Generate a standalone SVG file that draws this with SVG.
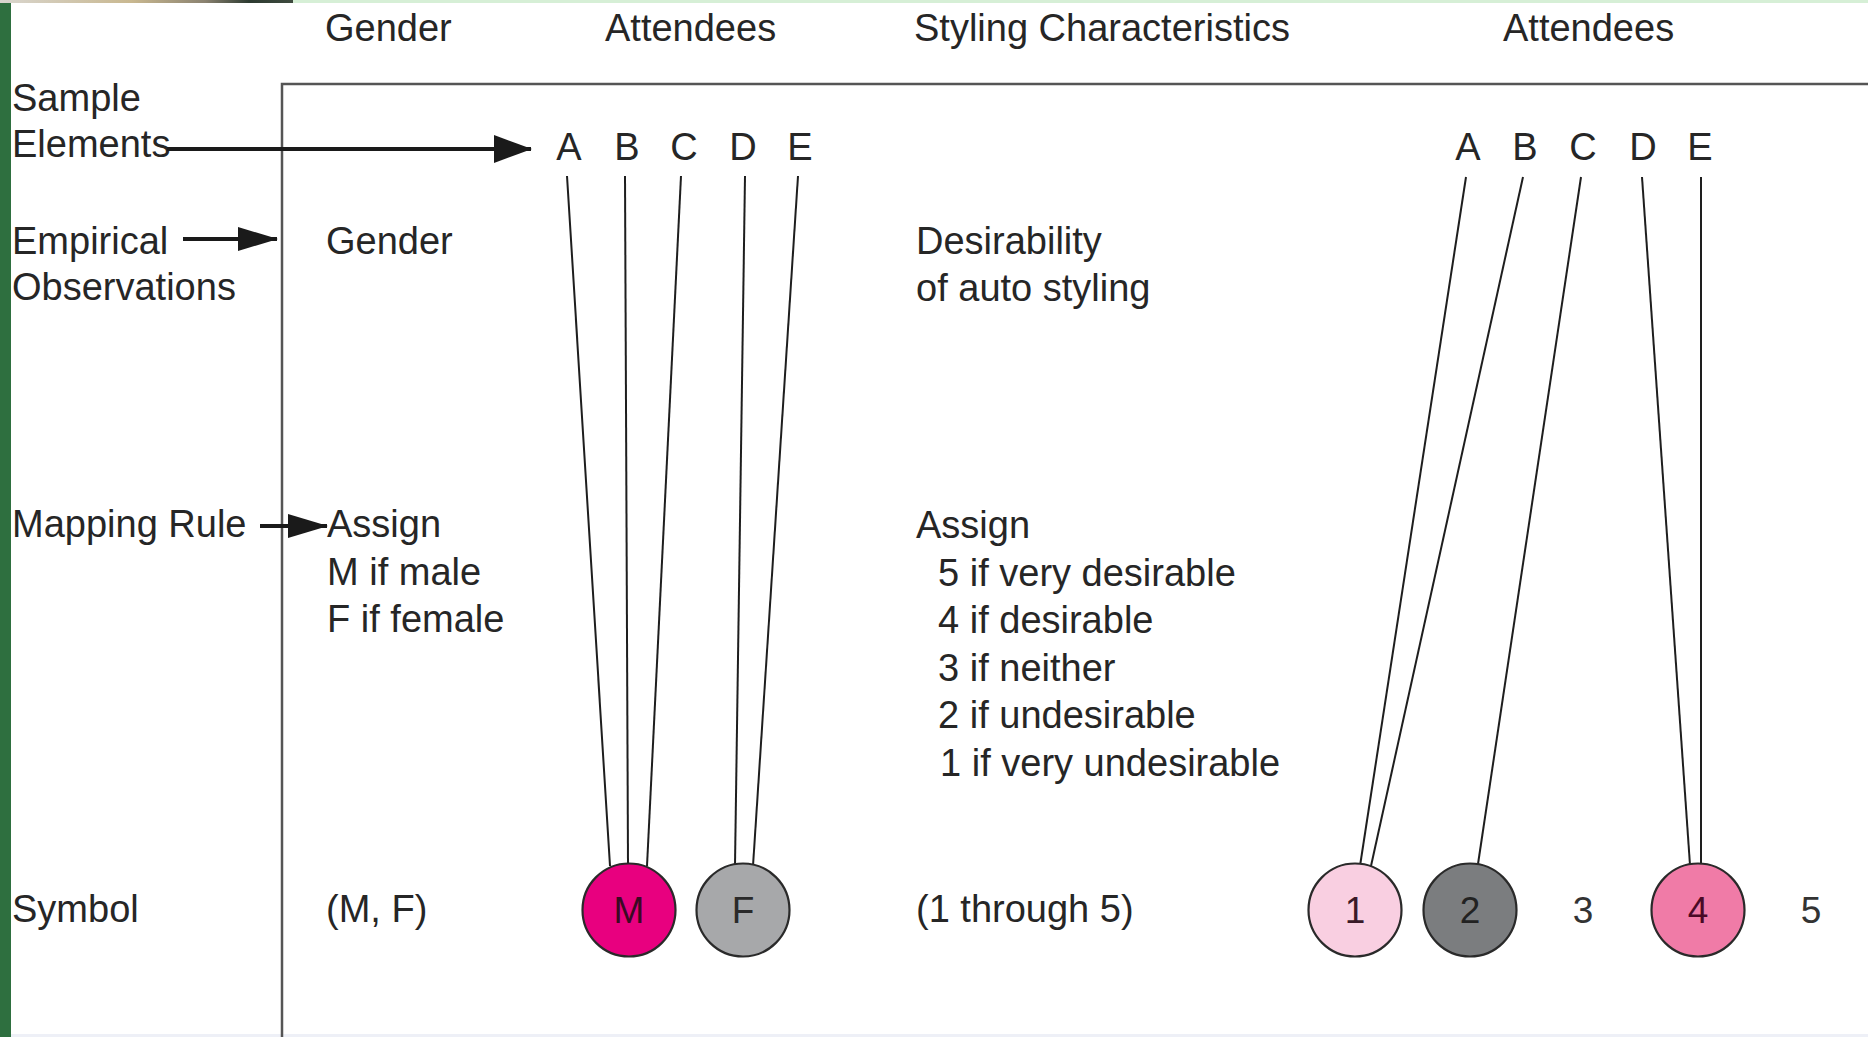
<svg xmlns="http://www.w3.org/2000/svg" width="1868" height="1037" viewBox="0 0 1868 1037">
<style>
  text { font-family: "Liberation Sans", Arial, Helvetica, sans-serif; font-size: 38px; fill: #262626; }
  .mid { text-anchor: middle; }
  .clab { font-size: 37px; text-anchor: middle; }
  .conn { stroke: #1e1e1e; stroke-width: 2; fill: none; }
  .arrow { stroke: #1a1a1a; stroke-width: 4; fill: none; }
  .circ { stroke: #2a2a2a; stroke-width: 2.2; }
</style>
<defs>
  <linearGradient id="topimg" x1="0" y1="0" x2="1" y2="0">
    <stop offset="0" stop-color="#d9d6cf"/>
    <stop offset="0.45" stop-color="#c9b890"/>
    <stop offset="0.7" stop-color="#8a8270"/>
    <stop offset="0.85" stop-color="#2c3a30"/>
    <stop offset="1" stop-color="#3e4a3e"/>
  </linearGradient>
  <marker id="headL" markerUnits="userSpaceOnUse" markerWidth="38" markerHeight="28" refX="37" refY="14" orient="auto">
    <path d="M0,0 L38,14 L0,28 z" fill="#1a1a1a"/>
  </marker>
  <marker id="headS" markerUnits="userSpaceOnUse" markerWidth="40" markerHeight="24" refX="39" refY="12" orient="auto">
    <path d="M0,0 L40,12 L0,24 z" fill="#1a1a1a"/>
  </marker>
</defs>

<rect x="0" y="0" width="1868" height="1037" fill="#ffffff"/>
<!-- page edges -->
<rect x="0" y="0" width="293" height="3" fill="url(#topimg)"/>
<rect x="293" y="0" width="1575" height="3" fill="#d6efd6"/>
<rect x="0" y="3" width="11" height="1034" fill="#2e6f3f"/>
<rect x="11" y="1034" width="1857" height="3" fill="#eef0f7"/>

<!-- frame -->
<path id="frame" d="M282,1037 L282,84 L1868,84" fill="none" stroke="#555555" stroke-width="2.5"/>

<!-- column headers -->
<g id="headers">
  <text x="325" y="41">Gender</text>
  <text x="605" y="41">Attendees</text>
  <text x="914" y="41">Styling Characteristics</text>
  <text x="1503" y="41">Attendees</text>
</g>

<!-- row labels -->
<g id="label-sample"><text x="12" y="111">Sample</text><text x="12" y="157">Elements</text></g>
<g id="label-empirical"><text x="12" y="254">Empirical</text><text x="12" y="300">Observations</text></g>
<g id="label-mapping"><text x="12" y="537">Mapping Rule</text></g>
<g id="label-symbol"><text x="12" y="922">Symbol</text></g>

<!-- gender column -->
<g id="gender-obs"><text x="326" y="254">Gender</text></g>
<g id="gender-rule">
  <text x="327" y="537">Assign</text>
  <text x="327" y="585">M if male</text>
  <text x="327" y="632">F if female</text>
</g>
<g id="gender-symbol"><text x="326" y="922">(M, F)</text></g>

<!-- styling column -->
<g id="styling-obs">
  <text x="916" y="254">Desirability</text>
  <text x="916" y="301">of auto styling</text>
</g>
<g id="styling-rule">
  <text x="916" y="538">Assign</text>
  <text x="938" y="585.5">5 if very desirable</text>
  <text x="938" y="633">4 if desirable</text>
  <text x="938" y="680.5">3 if neither</text>
  <text x="938" y="728">2 if undesirable</text>
  <text x="940" y="775.5">1 if very undesirable</text>
</g>
<g id="styling-symbol"><text x="916" y="922">(1 through 5)</text></g>

<!-- attendees left -->
<g id="attendees-left">
  <text class="mid" x="569" y="160">A</text>
  <text class="mid" x="627" y="160">B</text>
  <text class="mid" x="684" y="160">C</text>
  <text class="mid" x="743" y="160">D</text>
  <text class="mid" x="800" y="160">E</text>
</g>
<!-- attendees right -->
<g id="attendees-right">
  <text class="mid" x="1468" y="160">A</text>
  <text class="mid" x="1525" y="160">B</text>
  <text class="mid" x="1583" y="160">C</text>
  <text class="mid" x="1643" y="160">D</text>
  <text class="mid" x="1700" y="160">E</text>
</g>

<!-- connectors -->
<g id="connectors">
  <line class="arrow" x1="167" y1="149" x2="531" y2="149" marker-end="url(#headL)"/>
  <line class="arrow" x1="183" y1="239" x2="277" y2="239" marker-end="url(#headS)"/>
  <line class="arrow" x1="260" y1="526" x2="327" y2="526" marker-end="url(#headS)"/>

  <line class="conn" x1="567" y1="176" x2="610" y2="866"/>
  <line class="conn" x1="625" y1="176" x2="628" y2="864"/>
  <line class="conn" x1="681" y1="176" x2="647" y2="866"/>
  <line class="conn" x1="745" y1="176" x2="735" y2="865"/>
  <line class="conn" x1="798" y1="176" x2="753" y2="866"/>

  <line class="conn" x1="1466" y1="177" x2="1360" y2="866"/>
  <line class="conn" x1="1523" y1="177" x2="1371" y2="866"/>
  <line class="conn" x1="1581" y1="177" x2="1478" y2="864"/>
  <line class="conn" x1="1642" y1="177" x2="1690" y2="865"/>
  <line class="conn" x1="1701" y1="177" x2="1701" y2="864"/>
</g>

<!-- symbol nodes -->
<g id="node-M"><circle class="circ" cx="629" cy="910" r="46.5" fill="#e8007f"/><text class="clab" x="629" y="923" style="fill:#3a0a24">M</text></g>
<g id="node-F"><circle class="circ" cx="743" cy="910" r="46.5" fill="#a7a8aa"/><text class="clab" x="743" y="923" style="fill:#2a2a2a">F</text></g>
<g id="node-1"><circle class="circ" cx="1355" cy="910" r="46.5" fill="#f9cfe1"/><text class="clab" x="1355" y="923" style="fill:#3a1a28">1</text></g>
<g id="node-2"><circle class="circ" cx="1470" cy="910" r="46.5" fill="#7b7d7f"/><text class="clab" x="1470" y="923" style="fill:#222">2</text></g>
<g id="node-3"><text class="clab" x="1583" y="923" style="fill:#333">3</text></g>
<g id="node-4"><circle class="circ" cx="1698" cy="910" r="46.5" fill="#f07ba7"/><text class="clab" x="1698" y="923" style="fill:#4a0a26">4</text></g>
<g id="node-5"><text class="clab" x="1811" y="923" style="fill:#333">5</text></g>
</svg>
